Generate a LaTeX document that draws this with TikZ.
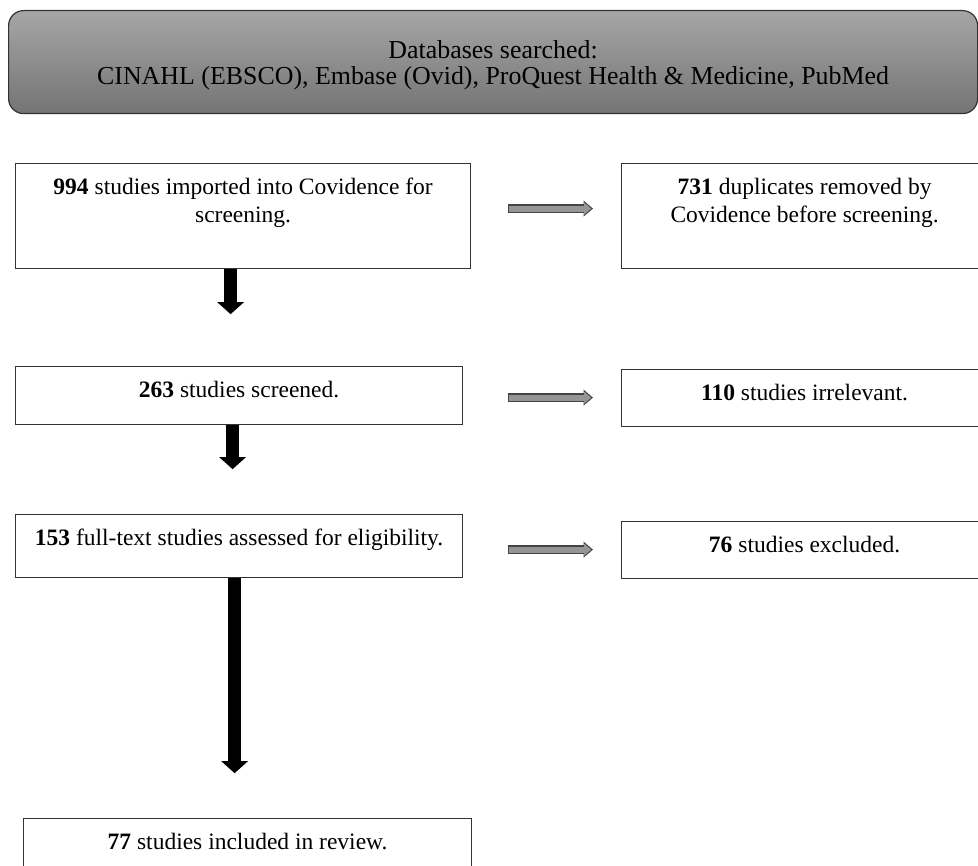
\documentclass[tikz,border=0pt]{standalone}
\usepackage{fontspec}
\setmainfont{Liberation Serif}
\usetikzlibrary{arrows.meta}
\definecolor{hdrtop}{HTML}{A6A6A6}
\definecolor{hdrbot}{HTML}{747474}
\definecolor{boxline}{HTML}{333333}
\definecolor{sidefill}{HTML}{959595}
\definecolor{sideedge}{HTML}{444444}
\tikzset{
  hdr/.style={draw=boxline,line width=1.2pt,rounded corners=15pt,top color=hdrtop,bottom color=hdrbot,
    anchor=north west,minimum width=969pt,minimum height=103pt,inner sep=0pt,align=center,
    font=\fontsize{25.9}{26.5}\selectfont},
  stage/.style={draw=boxline,line width=1.2pt,anchor=north west,inner sep=0pt},
  stagetext/.style={anchor=north,yshift=-15pt,inner sep=0pt,align=center,font=\fontsize{23.5}{28}\selectfont},
  downarrow/.style={line width=13pt,-{Triangle[length=12pt,width=26pt]}},
  sideouter/.style={draw=sideedge,line width=8.5pt,shorten >=28pt,-{Triangle[length=9.5pt,width=15.5pt]}},
  sideinner/.style={draw=sidefill,line width=6pt,shorten <=1.2pt,shorten >=29.8pt,-{Triangle[length=7pt,width=11.5pt]}}
}
\begin{document}
\begin{tikzpicture}[x=1pt,y=-1pt]
  \useasboundingbox (0,0) rectangle (978,866);
  % search header
  \node[hdr] (db) at (8,10) {\rule{0pt}{24pt}Databases searched:\\CINAHL (EBSCO), Embase (Ovid), ProQuest Health \& Medicine, PubMed};
  % left column
  \node[stage,minimum width=455pt,minimum height=105pt,
    label={[stagetext]north:{\textbf{994} studies imported into Covidence for\\screening.}}] (b1) at (15,163) {};
  \node[stage,minimum width=447pt,minimum height=58pt,
    label={[stagetext]north:{\textbf{263} studies screened.}}] (b3) at (15,366) {};
  \node[stage,minimum width=447pt,minimum height=63pt,
    label={[stagetext]north:{\textbf{153} full-text studies assessed for eligibility.}}] (b5) at (15,514) {};
  \node[stage,minimum width=448pt,minimum height=62pt,
    label={[stagetext]north:{\textbf{77} studies included in review.}}] (b7) at (23,818) {};
  % right column
  \node[stage,minimum width=366pt,minimum height=105pt,
    label={[stagetext]north:{\textbf{731} duplicates removed by\\Covidence before screening.}}] (b2) at (621,163) {};
  \node[stage,minimum width=366pt,minimum height=57pt,
    label={[stagetext]north:{\textbf{110} studies irrelevant.}}] (b4) at (621,369) {};
  \node[stage,minimum width=366pt,minimum height=57pt,
    label={[stagetext]north:{\textbf{76} studies excluded.}}] (b6) at (621,521) {};
  % down arrows
  \coordinate (d1) at ([xshift=-12.5pt]b1.south);
  \coordinate (d2) at ([xshift=-6.5pt]b3.south);
  \coordinate (d3) at ([xshift=-4.5pt]b5.south);
  \draw[downarrow] (d1) -- ++(0,45);
  \draw[downarrow] (d2) -- ++(0,44);
  \draw[downarrow] (d3) -- ++(0,195);
  % side arrows
  \coordinate (s1) at ([shift={(37pt,7.5pt)}]b1.east);
  \coordinate (s2) at ([shift={(45pt,-2pt)}]b3.east);
  \coordinate (s3) at ([shift={(45pt,-3.5pt)}]b5.east);
  \foreach \s/\t in {s1/b2,s2/b4,s3/b6}{
    \draw[sideouter] (\s) -- (\s -| \t.west);
    \draw[sideinner] (\s) -- (\s -| \t.west);
  }
\end{tikzpicture}
\end{document}
